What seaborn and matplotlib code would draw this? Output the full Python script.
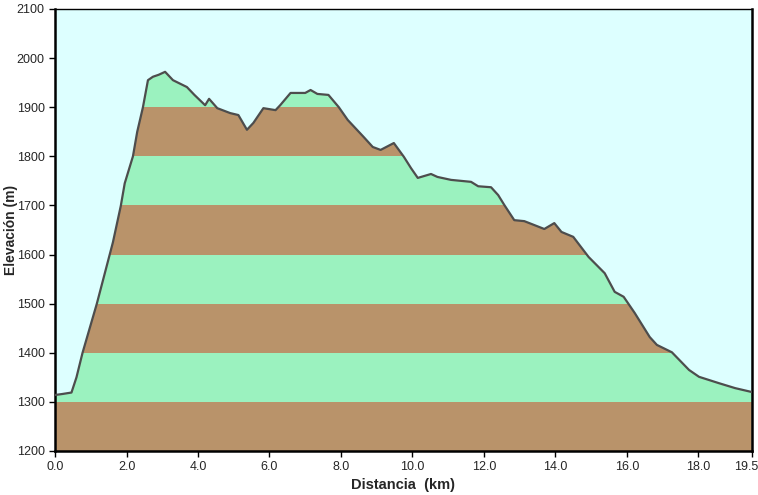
import pandas as pd
import matplotlib
matplotlib.use("Agg")
import matplotlib.pyplot as plt
import matplotlib.transforms as mtransforms
import seaborn as sns

# profile (km, m)
dist_km = [0.0, 0.2, 0.46, 0.6, 0.77, 0.95, 1.17, 1.35, 1.53, 1.62, 1.84, 1.95,
           2.18, 2.3, 2.46, 2.6, 2.74, 2.9, 3.08, 3.3,
           3.69, 3.9, 4.2, 4.31, 4.54, 4.9, 5.13, 5.37, 5.55, 5.83, 6.17, 6.3, 6.59,
           7.0, 7.15, 7.34, 7.65, 7.94, 8.19, 8.64, 8.89, 9.11, 9.48, 9.76, 9.96,
           10.15, 10.52, 10.7, 11.08, 11.64, 11.84, 12.2, 12.4, 12.57, 12.85, 13.13,
           13.69, 13.97, 14.17, 14.5, 14.93, 15.38, 15.66, 15.91, 16.22, 16.64,
           16.84, 17.26, 17.74, 18.02, 18.58, 19.03, 19.5]
elev_m = [1314, 1316, 1319, 1350, 1400, 1445, 1500, 1550, 1600, 1625, 1699, 1745,
          1800, 1850, 1900, 1955, 1962, 1966, 1972, 1955,
          1941, 1925, 1904, 1917, 1898, 1888, 1884, 1854, 1868, 1898, 1894, 1904, 1929,
          1929, 1935, 1927, 1925, 1900, 1874, 1839, 1819, 1813, 1827, 1799, 1776,
          1756, 1764, 1758, 1752, 1748, 1739, 1737, 1721, 1701, 1670, 1668,
          1652, 1664, 1646, 1636, 1595, 1562, 1524, 1514, 1481, 1432,
          1416, 1401, 1365, 1351, 1338, 1328, 1320]

band_edges = [1200, 1300, 1400, 1500, 1600, 1700, 1800, 1900, 2000]
y_ticks = [1200, 1300, 1400, 1500, 1600, 1700, 1800, 1900, 2000, 2100]
x_ticks = [0.0, 2.0, 4.0, 6.0, 8.0, 10.0, 12.0, 14.0, 16.0, 18.0, 19.5]
x_labels = ["0.0", "2.0", "4.0", "6.0", "8.0", "10.0", "12.0", "14.0", "16.0", "18.0", "19.5"]

BROWN = "#B9936A"
GREEN = "#9BF2BF"
SKY = "#DDFFFF"
LINE = "#4D4D4D"

df = pd.DataFrame({"dist": dist_km, "elev": elev_m})

sns.set_style("ticks")
plt.rcParams["font.family"] = ["Liberation Sans", "DejaVu Sans"]

fig = plt.figure(figsize=(7.58, 4.95), dpi=100)
ax = fig.add_axes([0.0726, 0.0889, 0.9194, 0.893])
ax.set_facecolor(SKY)

# area under the profile, used only as a clip shape for the bands
area = ax.fill_between(df["dist"], band_edges[0], df["elev"], facecolor="none",
                       edgecolor="none", zorder=0)
for i, (lo, hi) in enumerate(zip(band_edges[:-1], band_edges[1:])):
    band = ax.axhspan(lo, hi, color=BROWN if i % 2 == 0 else GREEN, linewidth=0, zorder=1)
    band.set_clip_path(area.get_paths()[0], area.get_transform())

sns.lineplot(data=df, x="dist", y="elev", ax=ax, color=LINE, linewidth=1.6, zorder=3)

ax.set_xlim(0, 19.5)
ax.set_ylim(1200, 2100)
ax.set_xticks(x_ticks)
ax.set_xticklabels(x_labels)
ax.set_yticks(y_ticks)
ax.tick_params(axis="both", labelsize=9, length=4, width=1, color="black", direction="out")
ax.set_xlabel("Distancia  (km)", fontsize=10.5, fontweight="bold", labelpad=3)
ax.set_ylabel("Elevación (m)", fontsize=10, fontweight="bold", va="center")
ax.yaxis.set_label_coords(-0.063, 0.5)

# keep the last x label inside the figure
last = ax.get_xticklabels()[-1]
last.set_horizontalalignment("right")
last.set_transform(last.get_transform() + mtransforms.ScaledTranslation(6 / 100, 0, fig.dpi_scale_trans))

for side in ["left", "bottom", "right"]:
    ax.spines[side].set_linewidth(1.8)
    ax.spines[side].set_color("black")
ax.spines["top"].set_linewidth(1.0)
ax.spines["top"].set_color("black")

fig.savefig("out.png", dpi=100)
